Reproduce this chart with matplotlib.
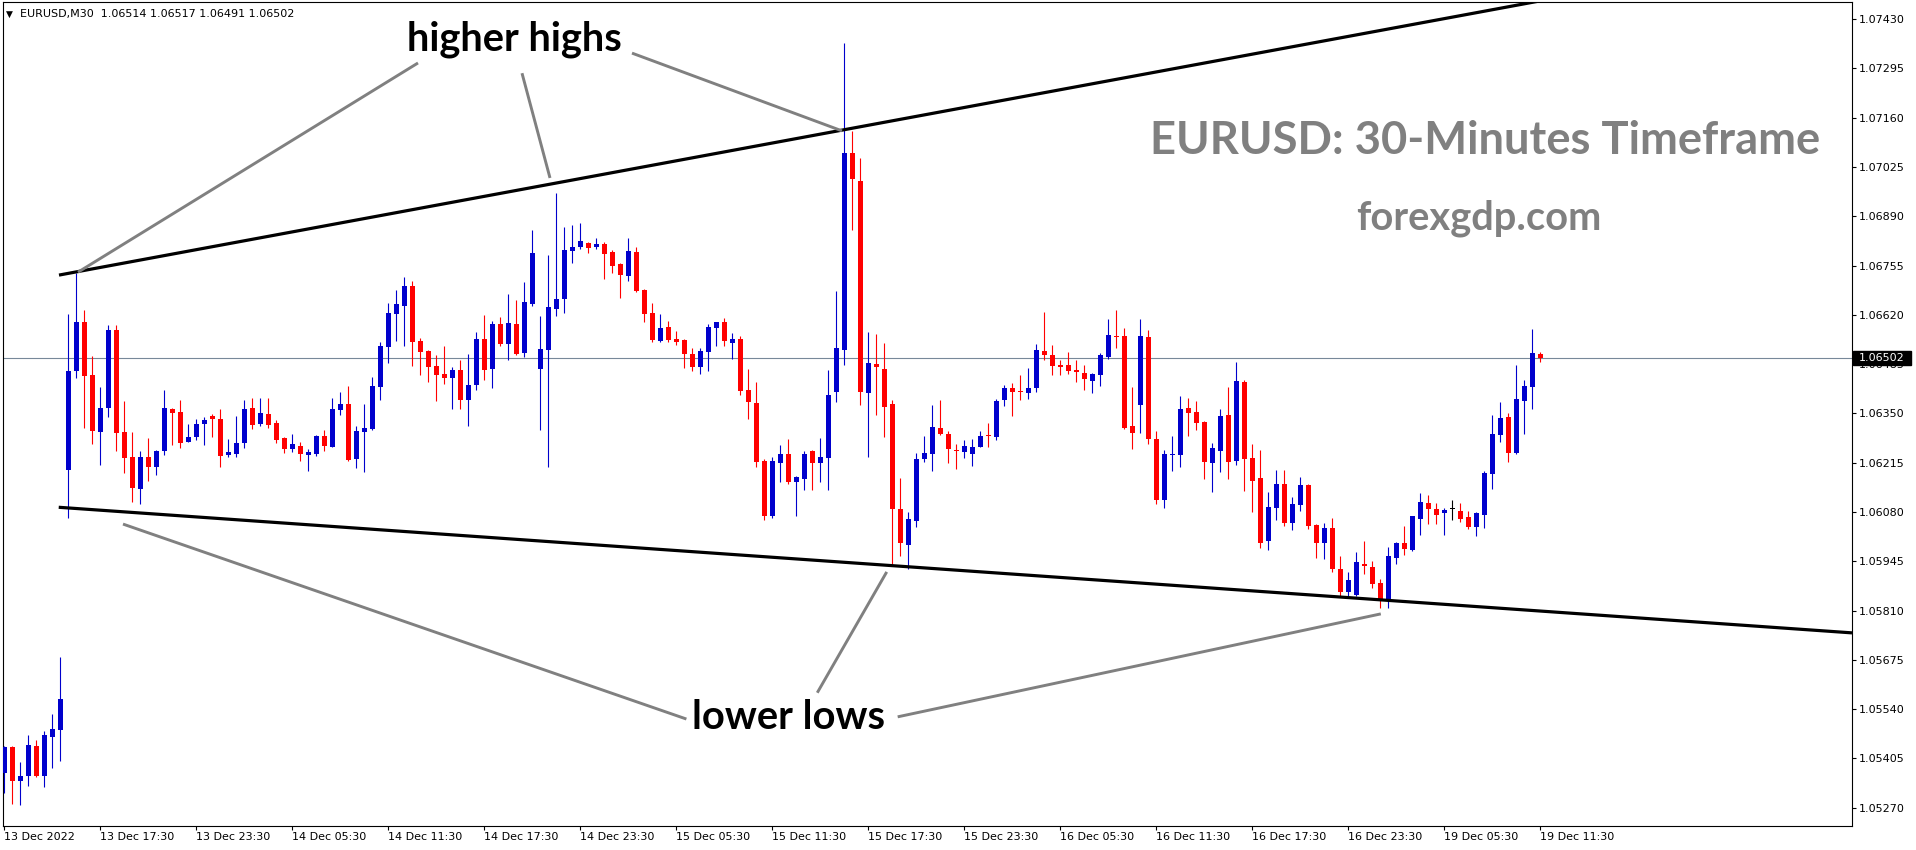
import matplotlib
matplotlib.use("Agg")
import matplotlib.pyplot as plt
from matplotlib.patches import Rectangle
import numpy as np

# ---------------- data (EURUSD M30, bars 0..192) ----------------
opens = [1.05366, 1.05437, 1.05342, 1.05357, 1.05439, 1.05357, 1.05465, 1.05483, 1.06195, 1.06466,
         1.06601, 1.06455, 1.06300, 1.06366, 1.06578, 1.06299, 1.06231, 1.06144, 1.06231, 1.06204,
         1.06247, 1.06362, 1.06354, 1.06273, 1.06285, 1.06321, 1.06343, 1.06335, 1.06237, 1.06240,
         1.06270, 1.06366, 1.06321, 1.06348, 1.06324, 1.06283, 1.06253, 1.06261, 1.06237, 1.06240,
         1.06288, 1.06259, 1.06360, 1.06376, 1.06226, 1.06299, 1.06308, 1.06423, 1.06533, 1.06623,
         1.06645, 1.06699, 1.06549, 1.06521, 1.06480, 1.06458, 1.06446, 1.06469, 1.06388, 1.06428,
         1.06554, 1.06472, 1.06595, 1.06540, 1.06595, 1.06516, 1.06650, 1.06472, 1.06524, 1.06636,
         1.06664, 1.06795, 1.06806, 1.06817, 1.06806, 1.06814, 1.06792, 1.06760, 1.06727, 1.06792,
         1.06688, 1.06625, 1.06549, 1.06587, 1.06554, 1.06551, 1.06513, 1.06477, 1.06519, 1.06584,
         1.06601, 1.06544, 1.06553, 1.06414, 1.06379, 1.06219, 1.06068, 1.06215, 1.06238, 1.06161,
         1.06171, 1.06247, 1.06213, 1.06229, 1.06410, 1.06525, 1.07063, 1.06987, 1.06407, 1.06485,
         1.06472, 1.06376, 1.06088, 1.05990, 1.06056, 1.06226, 1.06239, 1.06310, 1.06293, 1.06251,
         1.06245, 1.06239, 1.06259, 1.06290, 1.06286, 1.06387, 1.06421, 1.06412, 1.06407, 1.06420,
         1.06521, 1.06509, 1.06483, 1.06482, 1.06469, 1.06462, 1.06439, 1.06455, 1.06505, 1.06562,
         1.06562, 1.06315, 1.06373, 1.06559, 1.06280, 1.06112, 1.06236, 1.06236, 1.06364, 1.06353,
         1.06326, 1.06214, 1.06247, 1.06345, 1.06219, 1.06436, 1.06228, 1.06173, 1.06000, 1.06091,
         1.06156, 1.06049, 1.06099, 1.06153, 1.06044, 1.05995, 1.06036, 1.05923, 1.05860, 1.05852,
         1.05937, 1.05929, 1.05885, 1.05840, 1.05955, 1.05995, 1.05977, 1.06062, 1.06105, 1.06089,
         1.06076, 1.06088, 1.06083, 1.06067, 1.06040, 1.06073, 1.06183, 1.06292, 1.06341, 1.06243,
         1.06385, 1.06423, 1.06514]
highs = [1.05439, 1.05440, 1.05395, 1.05468, 1.05456, 1.05481, 1.05527, 1.05683, 1.06622, 1.06734,
         1.06633, 1.06507, 1.06423, 1.06592, 1.06592, 1.06384, 1.06299, 1.06247, 1.06284, 1.06250,
         1.06414, 1.06366, 1.06387, 1.06321, 1.06335, 1.06341, 1.06348, 1.06362, 1.06279, 1.06344,
         1.06387, 1.06393, 1.06391, 1.06391, 1.06332, 1.06285, 1.06294, 1.06273, 1.06252, 1.06291,
         1.06306, 1.06393, 1.06409, 1.06425, 1.06316, 1.06376, 1.06450, 1.06546, 1.06652, 1.06688,
         1.06724, 1.06713, 1.06557, 1.06524, 1.06510, 1.06535, 1.06477, 1.06497, 1.06513, 1.06573,
         1.06620, 1.06603, 1.06614, 1.06677, 1.06661, 1.06710, 1.06853, 1.06617, 1.06784, 1.06954,
         1.06861, 1.06866, 1.06872, 1.06820, 1.06831, 1.06820, 1.06798, 1.06762, 1.06831, 1.06806,
         1.06690, 1.06653, 1.06623, 1.06603, 1.06576, 1.06554, 1.06530, 1.06530, 1.06595, 1.06601,
         1.06612, 1.06570, 1.06562, 1.06472, 1.06435, 1.06226, 1.06231, 1.06263, 1.06281, 1.06179,
         1.06248, 1.06249, 1.06283, 1.06470, 1.06685, 1.07366, 1.07123, 1.07049, 1.06574, 1.06567,
         1.06543, 1.06386, 1.06173, 1.06079, 1.06241, 1.06288, 1.06373, 1.06386, 1.06302, 1.06265,
         1.06278, 1.06280, 1.06302, 1.06324, 1.06389, 1.06428, 1.06434, 1.06456, 1.06474, 1.06540,
         1.06629, 1.06537, 1.06497, 1.06519, 1.06496, 1.06482, 1.06460, 1.06516, 1.06608, 1.06633,
         1.06584, 1.06423, 1.06608, 1.06578, 1.06301, 1.06249, 1.06288, 1.06397, 1.06392, 1.06384,
         1.06328, 1.06269, 1.06362, 1.06422, 1.06490, 1.06441, 1.06266, 1.06249, 1.06134, 1.06195,
         1.06195, 1.06121, 1.06175, 1.06156, 1.06046, 1.06049, 1.06063, 1.05959, 1.05915, 1.05970,
         1.06000, 1.05945, 1.05896, 1.05984, 1.05998, 1.06042, 1.06069, 1.06132, 1.06127, 1.06105,
         1.06091, 1.06113, 1.06105, 1.06083, 1.06080, 1.06193, 1.06346, 1.06382, 1.06352, 1.06483,
         1.06442, 1.06582, 1.06517]
lows = [1.05311, 1.05280, 1.05278, 1.05330, 1.05355, 1.05327, 1.05380, 1.05398, 1.06065, 1.06448,
        1.06311, 1.06265, 1.06209, 1.06341, 1.06248, 1.06188, 1.06108, 1.06103, 1.06166, 1.06182,
        1.06236, 1.06263, 1.06256, 1.06271, 1.06277, 1.06263, 1.06286, 1.06204, 1.06232, 1.06232,
        1.06256, 1.06307, 1.06316, 1.06311, 1.06268, 1.06243, 1.06245, 1.06220, 1.06193, 1.06233,
        1.06247, 1.06257, 1.06345, 1.06221, 1.06201, 1.06190, 1.06306, 1.06387, 1.06489, 1.06549,
        1.06536, 1.06480, 1.06454, 1.06436, 1.06385, 1.06432, 1.06363, 1.06363, 1.06316, 1.06413,
        1.06442, 1.06421, 1.06535, 1.06497, 1.06511, 1.06505, 1.06644, 1.06305, 1.06204, 1.06617,
        1.06625, 1.06762, 1.06801, 1.06790, 1.06801, 1.06718, 1.06735, 1.06666, 1.06713, 1.06683,
        1.06601, 1.06546, 1.06546, 1.06546, 1.06538, 1.06475, 1.06467, 1.06458, 1.06467, 1.06535,
        1.06535, 1.06500, 1.06401, 1.06334, 1.06204, 1.06057, 1.06065, 1.06163, 1.06158, 1.06069,
        1.06141, 1.06141, 1.06161, 1.06141, 1.06380, 1.06484, 1.06852, 1.06374, 1.06232, 1.06346,
        1.06286, 1.05936, 1.05959, 1.05925, 1.06038, 1.06218, 1.06193, 1.06292, 1.06215, 1.06198,
        1.06227, 1.06207, 1.06257, 1.06259, 1.06278, 1.06371, 1.06344, 1.06387, 1.06390, 1.06410,
        1.06497, 1.06456, 1.06456, 1.06458, 1.06437, 1.06414, 1.06406, 1.06425, 1.06499, 1.06530,
        1.06307, 1.06252, 1.06296, 1.06266, 1.06102, 1.06091, 1.06192, 1.06203, 1.06288, 1.06304,
        1.06170, 1.06134, 1.06189, 1.06170, 1.06208, 1.06137, 1.06080, 1.05981, 1.05975, 1.06058,
        1.06041, 1.06030, 1.06082, 1.06033, 1.05954, 1.05951, 1.05915, 1.05850, 1.05850, 1.05850,
        1.05910, 1.05871, 1.05817, 1.05818, 1.05939, 1.05963, 1.05974, 1.06018, 1.06048, 1.06046,
        1.06018, 1.06058, 1.06054, 1.06033, 1.06013, 1.06037, 1.06144, 1.06273, 1.06216, 1.06240,
        1.06294, 1.06361, 1.06491]
closes = [1.05437, 1.05344, 1.05357, 1.05442, 1.05357, 1.05469, 1.05486, 1.05568, 1.06466, 1.06601,
          1.06452, 1.06302, 1.06366, 1.06578, 1.06297, 1.06229, 1.06146, 1.06231, 1.06204, 1.06247,
          1.06365, 1.06352, 1.06270, 1.06285, 1.06321, 1.06332, 1.06336, 1.06234, 1.06244, 1.06269,
          1.06362, 1.06319, 1.06351, 1.06319, 1.06278, 1.06253, 1.06266, 1.06240, 1.06244, 1.06288,
          1.06262, 1.06362, 1.06376, 1.06223, 1.06302, 1.06310, 1.06425, 1.06535, 1.06625, 1.06651,
          1.06699, 1.06547, 1.06519, 1.06478, 1.06454, 1.06446, 1.06469, 1.06388, 1.06428, 1.06554,
          1.06469, 1.06595, 1.06540, 1.06598, 1.06513, 1.06655, 1.06790, 1.06527, 1.06642, 1.06664,
          1.06798, 1.06806, 1.06823, 1.06803, 1.06814, 1.06787, 1.06754, 1.06729, 1.06795, 1.06686,
          1.06623, 1.06551, 1.06584, 1.06551, 1.06546, 1.06513, 1.06477, 1.06521, 1.06587, 1.06601,
          1.06549, 1.06553, 1.06412, 1.06380, 1.06217, 1.06068, 1.06219, 1.06240, 1.06161, 1.06176,
          1.06240, 1.06213, 1.06230, 1.06400, 1.06529, 1.07063, 1.06993, 1.06410, 1.06488, 1.06478,
          1.06367, 1.06088, 1.05994, 1.06061, 1.06225, 1.06241, 1.06312, 1.06294, 1.06253, 1.06246,
          1.06260, 1.06258, 1.06289, 1.06287, 1.06384, 1.06421, 1.06410, 1.06409, 1.06419, 1.06524,
          1.06510, 1.06481, 1.06478, 1.06467, 1.06464, 1.06443, 1.06458, 1.06510, 1.06564, 1.06559,
          1.06310, 1.06297, 1.06562, 1.06280, 1.06112, 1.06238, 1.06238, 1.06362, 1.06351, 1.06323,
          1.06217, 1.06255, 1.06343, 1.06217, 1.06438, 1.06225, 1.06164, 1.05995, 1.06093, 1.06156,
          1.06049, 1.06101, 1.06153, 1.06041, 1.05995, 1.06036, 1.05923, 1.05860, 1.05893, 1.05943,
          1.05932, 1.05882, 1.05839, 1.05960, 1.05995, 1.05980, 1.06068, 1.06108, 1.06089, 1.06073,
          1.06086, 1.06088, 1.06062, 1.06040, 1.06078, 1.06187, 1.06294, 1.06338, 1.06243, 1.06390,
          1.06425, 1.06516, 1.06502]

time_labels = ["13 Dec 2022", "13 Dec 17:30", "13 Dec 23:30", "14 Dec 05:30", "14 Dec 11:30",
               "14 Dec 17:30", "14 Dec 23:30", "15 Dec 05:30", "15 Dec 11:30", "15 Dec 17:30",
               "15 Dec 23:30", "16 Dec 05:30", "16 Dec 11:30", "16 Dec 17:30", "16 Dec 23:30",
               "19 Dec 05:30", "19 Dec 11:30"]
label_every = 12
price_ticks = [1.05270, 1.05405, 1.05540, 1.05675, 1.05810, 1.05945, 1.06080, 1.06215, 1.06350,
               1.06485, 1.06620, 1.06755, 1.06890, 1.07025, 1.07160, 1.07295, 1.07430]
last_price = 1.06502
header = "EURUSD,M30  1.06514 1.06517 1.06491 1.06502"

# trend lines: (bar, price) anchors
upper_trend = [(6.875, 1.06729), (174.5, 1.07409)]
lower_trend = [(6.84, 1.06093), (231.0, 1.05749)]
# annotation pointer lines (bar, price) pairs
hh_pointers = [[(51.75, 1.07310), (9.25, 1.06737)],
               [(64.75, 1.07282), (68.25, 1.06995)],
               [(78.5, 1.07337), (104.75, 1.07124)]]
ll_pointers = [[(14.875, 1.06047), (85.3, 1.05513)],
               [(101.66, 1.05585), (110.34, 1.05916)],
               [(111.71, 1.05519), (172.1, 1.05801)]]

# ---------------- figure ----------------
W, H = 1916, 850
fig = plt.figure(figsize=(W / 100, H / 100), dpi=100)
fig.patch.set_facecolor("white")
ax = fig.add_axes([2.5 / W, 1 - 826 / H, (1852 - 2.5) / W, (826 - 2) / H])
ax.set_facecolor("white")
XMIN, XMAX = -0.1875, 231.0
ax.set_xlim(XMIN, XMAX)
ax.set_ylim(1.05220, 1.07477)

BLUE, RED = "#0000CC", "#FF0000"
o = np.array(opens); h = np.array(highs); l = np.array(lows); c = np.array(closes)
x = np.arange(len(o))
cols = np.where(c > o, BLUE, np.where(c < o, RED, "black"))

ax.vlines(x, l, h, colors=cols, linewidth=0.8, zorder=3)
body_bot = np.minimum(o, c)
body_h = np.maximum(np.abs(c - o), 0.00003)
ax.bar(x, body_h, bottom=body_bot, width=0.625, color=cols, linewidth=0, zorder=3)

# current price line
ax.axhline(last_price, color="#778899", linewidth=0.8, zorder=2)


def extend(p, xend):
    (b1, p1), (b2, p2) = p
    s = (p2 - p1) / (b2 - b1)
    return [b1, xend], [p1, p1 + s * (xend - b1)]


for tl in (upper_trend, lower_trend):
    xs, ys = extend(tl, XMAX)
    ax.plot(xs, ys, color="black", linewidth=2.3, zorder=4, solid_capstyle="butt")

for seg in hh_pointers + ll_pointers:
    ax.plot([seg[0][0], seg[1][0]], [seg[0][1], seg[1][1]], color="#808080",
            linewidth=2.1, zorder=4, solid_capstyle="butt")

# axes styling
for sp in ax.spines.values():
    sp.set_linewidth(0.8)
    sp.set_color("black")
ax.yaxis.tick_right()
ax.set_yticks(price_ticks)
ax.set_yticklabels([f"{v:.5f}" for v in price_ticks])
ax.tick_params(axis="y", which="both", direction="out", length=3, width=0.8, pad=2,
               labelsize=8, colors="black", left=False, right=True)
ax.set_xticks(list(range(0, len(o), label_every)))
ax.set_xticklabels(time_labels, ha="left")
ax.tick_params(axis="x", direction="out", length=3, width=0.8, pad=1, labelsize=8,
               colors="black")

# last price tag
ytr = ax.get_yaxis_transform()
half = 6.8 / 36508
tag = Rectangle((1.0004, last_price - half), (1910 - 1852) / 1849.5, 2 * half,
                transform=ytr, facecolor="black", edgecolor="black", clip_on=False, zorder=10)
ax.add_patch(tag)
ax.text(1.0 + 7 / 1849.5, last_price, f"{last_price:.5f}", transform=ytr, color="white",
        fontsize=8, ha="left", va="center", zorder=11, clip_on=False)

# header
fig.text(5.5 / W, 1 - 16.5 / H, "\u25BC", fontsize=6.5, color="black", va="baseline")
fig.text(20 / W, 1 - 16.5 / H, header, fontsize=8, color="black", va="baseline")

# big texts, fitted to target widths
fig.canvas.draw()
renderer = fig.canvas.get_renderer()


def fit_text(txt, xc, baseline, target_w, color, size0=30):
    t = fig.text(xc / W, 1 - baseline / H, txt, ha="center", va="baseline", color=color,
                 fontsize=size0, fontfamily="Lato", fontweight="bold", zorder=20)
    bb = t.get_window_extent(renderer)
    t.set_fontsize(size0 * target_w / bb.width)
    return t


fit_text("higher highs", 514, 50, 216, "black")
fit_text("lower lows", 788.3, 729, 193, "black")
fit_text("EURUSD: 30-Minutes Timeframe", 1485, 154, 672, "#808080")
fit_text("forexgdp.com", 1478.5, 230, 245, "#808080")

fig.savefig("out.png", dpi=100, facecolor="white")
